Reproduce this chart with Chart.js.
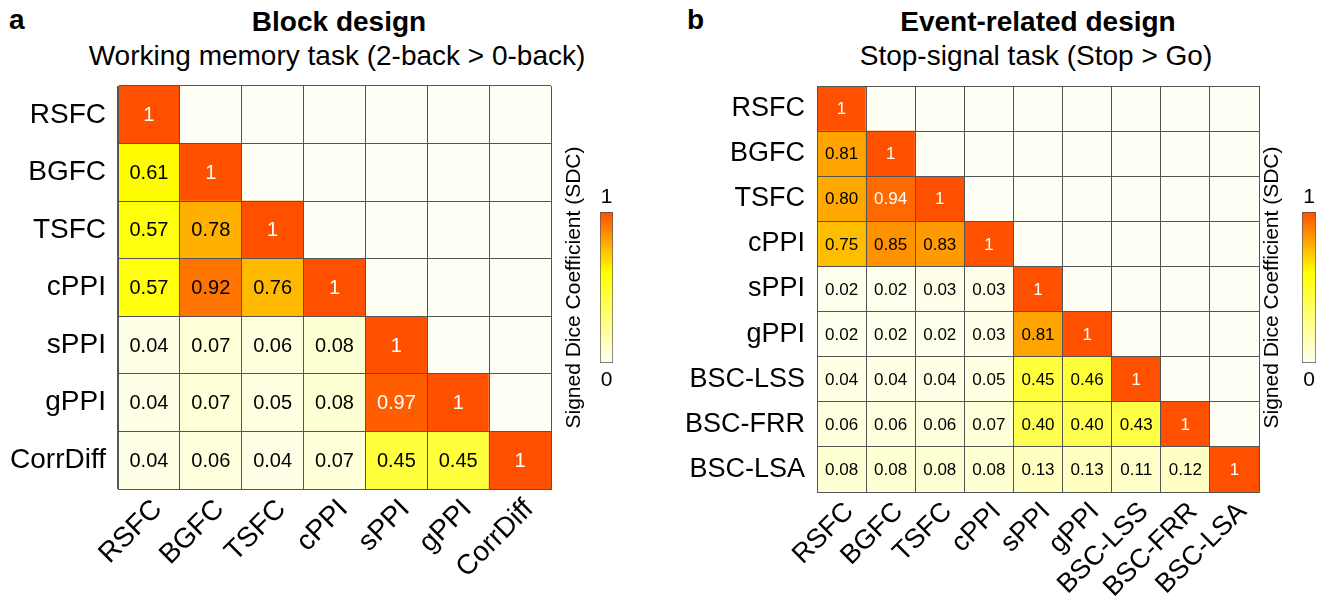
<!DOCTYPE html>
<html>
<head>
<meta charset="utf-8">
<title>Signed Dice Coefficient</title>
<script src="https://cdn.jsdelivr.net/npm/chart.js@4.4.1/dist/chart.umd.min.js"></script>
<style>
  body { margin: 0; background: #fff; width: 1331px; height: 605px; position: relative; overflow: hidden;
         font-family: 'Liberation Sans', Arial, sans-serif; color: #000; }
  .box { position: absolute; }
  .txt { position: absolute; white-space: nowrap; line-height: 1; }
  .tag { font-weight: bold; font-size: 28px; }
  .ttl { font-weight: bold; font-size: 28px; transform: translateX(-50%); }
  .sub { font-size: 28px; transform: translateX(-50%); }
</style>
</head>
<body>

<div class="txt tag" style="left:9px; top:6px">a</div>
<div class="txt ttl" style="left:339px; top:8px">Block design</div>
<div class="txt sub" style="left:337px; top:42px">Working memory task (2-back &gt; 0-back)</div>

<div class="txt tag" style="left:687px; top:6px">b</div>
<div class="txt ttl" style="left:1038px; top:8px">Event-related design</div>
<div class="txt sub" style="left:1036px; top:42px">Stop-signal task (Stop &gt; Go)</div>

<div class="box" style="left:0; top:0; width:560px; height:605px"><canvas id="blockChart"></canvas></div>
<div class="box" style="left:555px; top:0; width:80px; height:605px"><canvas id="blockBar"></canvas></div>
<div class="box" style="left:670px; top:0; width:600px; height:605px"><canvas id="eventChart"></canvas></div>
<div class="box" style="left:1250px; top:0; width:81px; height:605px"><canvas id="eventBar"></canvas></div>

<script>
// ---- block design: working memory (2-back > 0-back), lower triangle rows ----
const blockLabels = ['RSFC', 'BGFC', 'TSFC', 'cPPI', 'sPPI', 'gPPI', 'CorrDiff'];
const blockRSFC = [1];
const blockBGFC = [0.61, 1];
const blockTSFC = [0.57, 0.78, 1];
const blockCPPI = [0.57, 0.92, 0.76, 1];
const blockSPPI = [0.04, 0.07, 0.06, 0.08, 1];
const blockGPPI = [0.04, 0.07, 0.05, 0.08, 0.97, 1];
const blockCorrDiff = [0.04, 0.06, 0.04, 0.07, 0.45, 0.45, 1];

// ---- event-related design: stop-signal (Stop > Go) ----
const eventLabels = ['RSFC', 'BGFC', 'TSFC', 'cPPI', 'sPPI', 'gPPI', 'BSC-LSS', 'BSC-FRR', 'BSC-LSA'];
const eventRSFC = [1];
const eventBGFC = [0.81, 1];
const eventTSFC = [0.80, 0.94, 1];
const eventCPPI = [0.75, 0.85, 0.83, 1];
const eventSPPI = [0.02, 0.02, 0.03, 0.03, 1];
const eventGPPI = [0.02, 0.02, 0.02, 0.03, 0.81, 1];
const eventLSS = [0.04, 0.04, 0.04, 0.05, 0.45, 0.46, 1];
const eventFRR = [0.06, 0.06, 0.06, 0.07, 0.40, 0.40, 0.43, 1];
const eventLSA = [0.08, 0.08, 0.08, 0.08, 0.13, 0.13, 0.11, 0.12, 1];

// colour bar range
const sdcTicks = [0, 1];

const FONT = "'Liberation Sans', Arial, sans-serif";
const GRID = '#555555';
Chart.defaults.font.family = FONT;
Chart.defaults.color = '#000';

// cream -> yellow -> red-orange
const cmapStops = [[0, [255, 255, 245]], [0.6, [255, 255, 0]], [1, [255, 80, 0]]];

function sdcColor(v) {
  for (let i = 1; i < cmapStops.length; i++) {
    const [p1, c1] = cmapStops[i];
    const [p0, c0] = cmapStops[i - 1];
    if (v <= p1) {
      const t = (v - p0) / (p1 - p0);
      const rgb = c0.map((c, k) => Math.round(c + (c1[k] - c) * t));
      return `rgb(${rgb.join(',')})`;
    }
  }
  return `rgb(${cmapStops[cmapStops.length - 1][1].join(',')})`;
}

// writes the coefficient in every filled cell
const cellText = {
  id: 'cellText',
  afterDatasetsDraw(chart, args, opts) {
    const ctx = chart.ctx;
    ctx.save();
    ctx.font = `${opts.size}px ${FONT}`;
    ctx.textAlign = 'center';
    ctx.textBaseline = 'middle';
    chart.data.datasets.forEach((ds, di) => {
      chart.getDatasetMeta(di).data.forEach((bar, i) => {
        const v = ds.cellValues[i];
        if (v === null) return;
        ctx.fillStyle = v >= 0.93 ? '#fff' : '#000';
        ctx.fillText(v === 1 ? '1' : v.toFixed(2), bar.x, (bar.y + bar.base) / 2 + 1);
      });
    });
    ctx.restore();
  }
};

// "1" above and "0" below the colour bar
const barEnds = {
  id: 'barEnds',
  afterDraw(chart) {
    const { ctx, chartArea: a, scales: { y } } = chart;
    const cx = (a.left + a.right) / 2;
    ctx.save();
    ctx.font = `21px ${FONT}`;
    ctx.fillStyle = '#000';
    ctx.textAlign = 'center';
    sdcTicks.forEach(t => {
      const py = y.getPixelForValue(t);
      if (t === y.max) {
        ctx.textBaseline = 'bottom';
        ctx.fillText(String(t), cx, py - 4);
      } else {
        ctx.textBaseline = 'top';
        ctx.fillText(String(t), cx, py + 7);
      }
    });
    ctx.restore();
  }
};

// lower-triangular heatmap as stacked unit bars, one dataset per row
function heatmap(id, labels, rows, o) {
  const n = labels.length;
  const datasets = [];
  for (let r = n - 1; r >= 0; r--) {
    const vals = labels.map((_, c) => (c <= r ? rows[r][c] : null));
    datasets.push({
      label: labels[r],
      data: labels.map(() => 1),
      cellValues: vals,
      backgroundColor: vals.map(v => sdcColor(v === null ? 0 : v)),
      borderWidth: 0,
      barPercentage: 1,
      categoryPercentage: 1
    });
  }

  // grid and frame drawn over the cells
  const gridOpts = { color: GRID, lineWidth: 1, drawTicks: false, offset: true, z: 1 };
  const borderOpts = { color: GRID, z: 1 };

  return new Chart(document.getElementById(id), {
    type: 'bar',
    data: { labels: labels, datasets: datasets },
    options: {
      responsive: true,
      maintainAspectRatio: false,
      animation: false,
      layout: { padding: { top: o.top, right: o.right, left: 0, bottom: 0 } },
      plugins: {
        legend: { display: false },
        tooltip: { enabled: false },
        cellText: { size: o.cellSize }
      },
      scales: {
        x: {
          stacked: true,
          grid: gridOpts,
          border: borderOpts,
          ticks: {
            font: { size: o.tickSize },
            minRotation: 45,
            maxRotation: 45,
            autoSkip: false,
            padding: o.xPad,
            labelOffset: o.labelOffset
          },
          afterFit: s => { s.height = o.xHeight; }
        },
        y: {
          stacked: true,
          min: 0,
          max: n,
          grid: gridOpts,
          border: borderOpts,
          afterBuildTicks: s => { s.ticks = labels.map((_, i) => ({ value: i + 0.5 })); },
          ticks: {
            font: { size: o.tickSize },
            padding: 12,
            autoSkip: false,
            callback: v => labels[n - 1 - Math.floor(v)]
          },
          afterFit: s => { s.width = o.yWidth; }
        }
      }
    },
    plugins: [cellText]
  });
}

function colorbar(id, o) {
  return new Chart(document.getElementById(id), {
    type: 'bar',
    data: {
      labels: [''],
      datasets: [{
        data: [[sdcTicks[0], sdcTicks[1]]],
        backgroundColor: c => {
          const a = c.chart.chartArea;
          if (!a || !isFinite(a.top) || !isFinite(a.bottom) || a.bottom === a.top) return sdcColor(0.5);
          const g = c.chart.ctx.createLinearGradient(0, a.bottom, 0, a.top);
          cmapStops.forEach(([p, rgb]) => g.addColorStop(p, `rgb(${rgb.join(',')})`));
          return g;
        },
        borderColor: GRID,
        borderWidth: 1,
        borderSkipped: false,
        barPercentage: 1,
        categoryPercentage: 1
      }]
    },
    options: {
      responsive: true,
      maintainAspectRatio: false,
      animation: false,
      layout: { padding: { top: 212, bottom: 605 - 363, right: o.right, left: 0 } },
      plugins: { legend: { display: false }, tooltip: { enabled: false } },
      scales: {
        x: { display: false },
        y: {
          min: sdcTicks[0],
          max: sdcTicks[1],
          grid: { display: false },
          border: { display: false },
          ticks: { display: false },
          title: {
            display: true,
            text: 'Signed Dice Coefficient (SDC)',
            font: { size: 21 },
            padding: { top: o.titlePad, bottom: 0 }
          },
          afterFit: s => { s.width = o.left; }
        }
      }
    },
    plugins: [barEnds]
  });
}

heatmap('blockChart', blockLabels,
  [blockRSFC, blockBGFC, blockTSFC, blockCPPI, blockSPPI, blockGPPI, blockCorrDiff],
  { top: 86, right: 9, yWidth: 118, xHeight: 116, tickSize: 28, cellSize: 20, xPad: 4, labelOffset: 9 });

heatmap('eventChart', eventLabels,
  [eventRSFC, eventBGFC, eventTSFC, eventCPPI, eventSPPI, eventGPPI, eventLSS, eventFRR, eventLSA],
  { top: 86, right: 11, yWidth: 147, xHeight: 113, tickSize: 27, cellSize: 17, xPad: 4, labelOffset: 8 });

colorbar('blockBar', { left: 45, right: 22, titlePad: 7 });
colorbar('eventBar', { left: 52, right: 15, titlePad: 10 });
</script>
</body>
</html>
